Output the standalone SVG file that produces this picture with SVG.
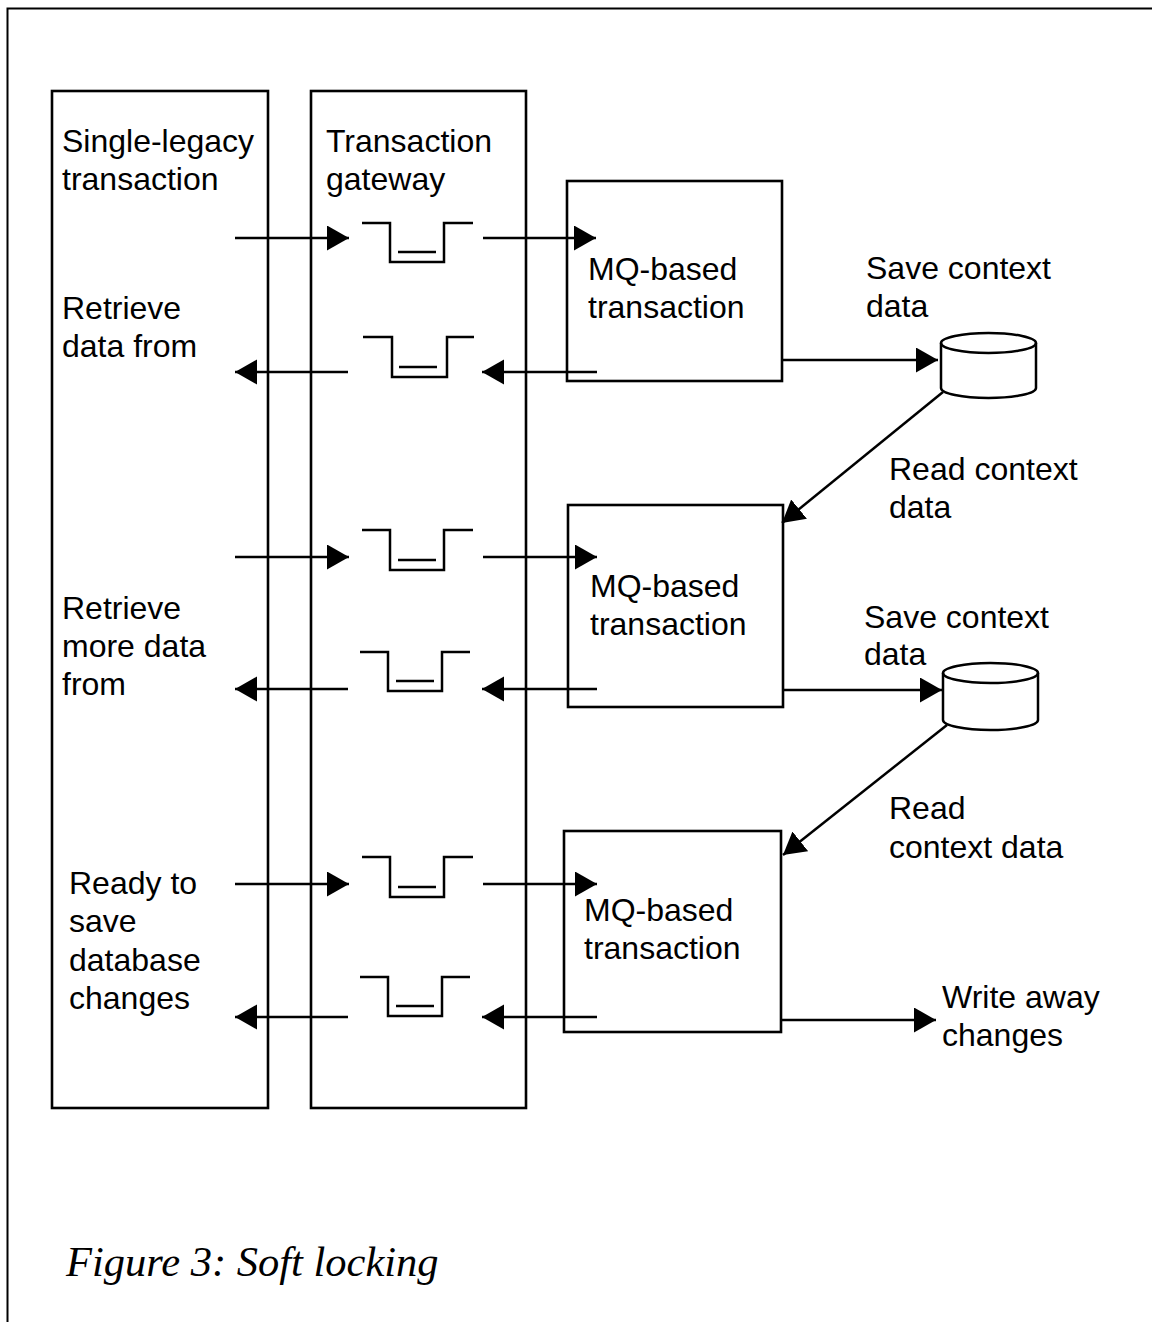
<svg xmlns="http://www.w3.org/2000/svg" width="1152" height="1322" viewBox="0 0 1152 1322">
  <style>
    .frame { fill: none; stroke: #000; stroke-width: 2; }
    .box { fill: none; stroke: #000; stroke-width: 2.6; }
    .ln { fill: none; stroke: #000; stroke-width: 2.5; }
    .q { fill: none; stroke: #000; stroke-width: 2.5; stroke-linejoin: miter; }
    .lbl { font-family: "Liberation Sans", Arial, sans-serif; font-size: 32px; fill: #000; }
    .cap { font-family: "Liberation Serif", "Times New Roman", serif; font-style: italic; font-size: 42.5px; fill: #000; }
  </style>
  <defs>
    <marker id="arrow" markerUnits="userSpaceOnUse" markerWidth="24" markerHeight="26" refX="22" refY="12.5" orient="auto">
      <path d="M0,0 L22,12.5 L0,25 Z" fill="#000"/>
    </marker>
  </defs>

  <rect width="1152" height="1322" fill="#fff"/>

  <!-- page frame (top and left edges) -->
  <path class="frame" d="M7.5,1322 V8.5 H1152"/>

  <!-- columns -->
  <g id="legacy">
    <rect class="box" x="52" y="91" width="216" height="1017"/>
    <text class="lbl" x="62" y="152">Single-legacy</text>
    <text class="lbl" x="62" y="190">transaction</text>
  </g>
  <g id="gateway">
    <rect class="box" x="311" y="91" width="215" height="1017"/>
    <text class="lbl" x="326" y="152">Transaction</text>
    <text class="lbl" x="326" y="190">gateway</text>
  </g>

  <!-- queues inside the gateway -->
  <g id="queues">
    <path class="q" d="M362,223 H390 V262 H444 V223 H473 M398,252 H436"/>
    <path class="q" d="M363,337 H392 V377 H447 V337 H474 M399,367 H437"/>
    <path class="q" d="M362,530 H390 V570 H444 V530 H473 M398,560 H436"/>
    <path class="q" d="M360,652 H388 V691 H442 V652 H470 M396,681 H434"/>
    <path class="q" d="M362,857 H390 V897 H444 V857 H473 M398,887 H436"/>
    <path class="q" d="M360,977 H388 V1016 H442 V977 H470 M396,1006 H434"/>
  </g>

  <!-- MQ-based transactions -->
  <g id="mq1">
    <rect class="box" x="567" y="181" width="215" height="200"/>
    <text class="lbl" x="588" y="280">MQ-based</text>
    <text class="lbl" x="588" y="318">transaction</text>
  </g>
  <g id="mq2">
    <rect class="box" x="568" y="505" width="215" height="202"/>
    <text class="lbl" x="590" y="597">MQ-based</text>
    <text class="lbl" x="590" y="635">transaction</text>
  </g>
  <g id="mq3">
    <rect class="box" x="564" y="831" width="217" height="201"/>
    <text class="lbl" x="584" y="921">MQ-based</text>
    <text class="lbl" x="584" y="959">transaction</text>
  </g>

  <!-- context stores -->
  <g id="store1">
    <path class="ln" d="M941,343 V388 A47.5,10 0 0 0 1036,388 V343"/>
    <ellipse class="ln" cx="988.5" cy="343" rx="47.5" ry="10"/>
  </g>
  <g id="store2">
    <path class="ln" d="M943,673 V720 A47.5,10 0 0 0 1038,720 V673"/>
    <ellipse class="ln" cx="990.5" cy="673" rx="47.5" ry="10"/>
  </g>

  <!-- side labels -->
  <g id="labels">
    <text class="lbl" x="62" y="319">Retrieve</text>
    <text class="lbl" x="62" y="357">data from</text>
    <text class="lbl" x="62" y="619">Retrieve</text>
    <text class="lbl" x="62" y="657">more data</text>
    <text class="lbl" x="62" y="695">from</text>
    <text class="lbl" x="69" y="894">Ready to</text>
    <text class="lbl" x="69" y="932">save</text>
    <text class="lbl" x="69" y="971">database</text>
    <text class="lbl" x="69" y="1009">changes</text>
    <text class="lbl" x="866" y="279">Save context</text>
    <text class="lbl" x="866" y="317">data</text>
    <text class="lbl" x="889" y="480">Read context</text>
    <text class="lbl" x="889" y="518">data</text>
    <text class="lbl" x="864" y="628">Save context</text>
    <text class="lbl" x="864" y="665">data</text>
    <text class="lbl" x="889" y="819">Read</text>
    <text class="lbl" x="889" y="858">context data</text>
    <text class="lbl" x="942" y="1008">Write away</text>
    <text class="lbl" x="942" y="1046">changes</text>
  </g>

  <!-- message flow -->
  <g id="connectors">
    <line class="ln" x1="235" y1="238" x2="349" y2="238" marker-end="url(#arrow)"/>
    <line class="ln" x1="483" y1="238" x2="596" y2="238" marker-end="url(#arrow)"/>
    <line class="ln" x1="348" y1="372" x2="235" y2="372" marker-end="url(#arrow)"/>
    <line class="ln" x1="597" y1="372" x2="482" y2="372" marker-end="url(#arrow)"/>
    <line class="ln" x1="782" y1="360" x2="938" y2="360" marker-end="url(#arrow)"/>
    <line class="ln" x1="943" y1="392" x2="782" y2="523" marker-end="url(#arrow)"/>

    <line class="ln" x1="235" y1="557" x2="349" y2="557" marker-end="url(#arrow)"/>
    <line class="ln" x1="483" y1="557" x2="597" y2="557" marker-end="url(#arrow)"/>
    <line class="ln" x1="348" y1="689" x2="235" y2="689" marker-end="url(#arrow)"/>
    <line class="ln" x1="597" y1="689" x2="482" y2="689" marker-end="url(#arrow)"/>
    <line class="ln" x1="783" y1="690" x2="942" y2="690" marker-end="url(#arrow)"/>
    <line class="ln" x1="947" y1="725" x2="783" y2="855" marker-end="url(#arrow)"/>

    <line class="ln" x1="235" y1="884" x2="349" y2="884" marker-end="url(#arrow)"/>
    <line class="ln" x1="483" y1="884" x2="597" y2="884" marker-end="url(#arrow)"/>
    <line class="ln" x1="348" y1="1017" x2="235" y2="1017" marker-end="url(#arrow)"/>
    <line class="ln" x1="597" y1="1017" x2="482" y2="1017" marker-end="url(#arrow)"/>
    <line class="ln" x1="781" y1="1020" x2="936" y2="1020" marker-end="url(#arrow)"/>
  </g>

  <text class="cap" x="66" y="1276">Figure 3: Soft locking</text>
</svg>
